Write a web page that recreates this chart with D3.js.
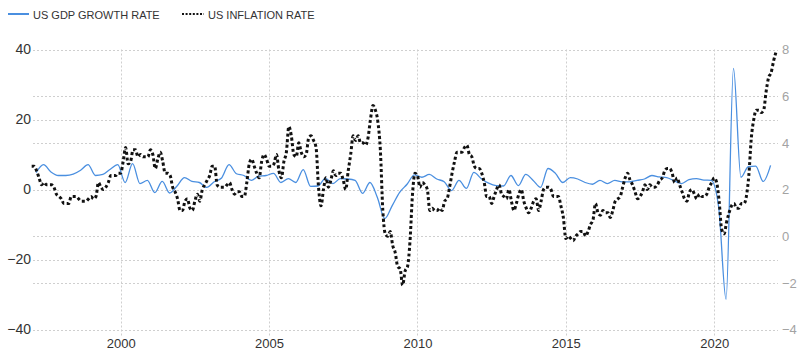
<!DOCTYPE html>
<html>
<head>
<meta charset="utf-8">
<script src="https://cdn.jsdelivr.net/npm/d3@7"></script>
<style>
  body { margin: 0; background: #fff; }
  text { font-family: Arial, "Liberation Sans", sans-serif; }
</style>
</head>
<body>
<div id="chart"></div>
<script>
/************************** DATA **************************/

var yearTicks = [2000, 2005, 2010, 2015, 2020];
var gdpTicks = [-40, -20, 0, 20, 40];
var cpiTicks = [-4, -2, 0, 2, 4, 6, 8];

// US GDP growth rate, quarterly, 1997 Q1 .. 2021 Q4 (left axis, %)
var gdpStartYear = 1997;
var gdpGrowth = [
  4.8, 7.1, 5.0, 4.0,     // 1997
  4.0, 4.4, 5.5, 7.1,     // 1998
  4.0, 4.3, 5.8, 7.1,     // 1999
  2.0, 7.4, 1.7, 2.6,     // 2000
  -0.9, 2.3, -1.0, 1.0,   // 2001
  3.4, 2.3, 2.0, 0.6,     // 2002
  2.2, 3.3, 7.1, 4.5,     // 2003
  4.0, 2.6, 3.8, 4.0,     // 2004
  4.6, 2.0, 3.1, 2.0,     // 2005
  5.7, 0.9, 1.0, 3.2,     // 2006
  1.7, 3.1, 3.0, 2.6,     // 2007
  -1.1, 2.0, -2.3, -8.3,  // 2008
  -4.6, -0.8, 1.5, 4.2,   // 2009
  3.5, 4.3, 3.0, 2.2,     // 2010
  -0.3, 2.6, 0.3, 4.9,    // 2011
  3.1, 1.8, 1.1, 1.0,     // 2012
  4.0, 1.1, 4.3, 2.6,     // 2013
  0.6, 6.0, 4.6, 2.0,     // 2014
  3.4, 3.0, 2.0, 1.5,     // 2015
  2.6, 1.7, 2.6, 2.2,     // 2016
  2.2, 2.6, 3.0, 4.0,     // 2017
  3.6, 3.4, 2.5, 1.7,     // 2018
  2.8, 3.1, 2.7, 2.6,     // 2019
  -5.0, -31.4, 34.6, 3.5, // 2020
  6.5, 6.7, 2.3, 6.9      // 2021
];

// US inflation rate, monthly, Jan 1997 .. Feb 2022 (right axis, %)
var inflationStartYear = 1997;
var inflation = [
  3.0, 3.0, 2.8, 2.5, 2.2, 2.3, 2.2, 2.2, 2.2, 2.1, 1.8, 1.7,   // 1997
  1.6, 1.4, 1.4, 1.4, 1.7, 1.7, 1.7, 1.6, 1.5, 1.5, 1.5, 1.6,   // 1998
  1.7, 1.6, 1.7, 2.3, 2.1, 2.0, 2.1, 2.3, 2.6, 2.6, 2.6, 2.7,   // 1999
  2.7, 3.2, 3.8, 3.1, 3.2, 3.7, 3.7, 3.4, 3.5, 3.4, 3.4, 3.4,   // 2000
  3.7, 3.5, 2.9, 3.3, 3.6, 3.2, 2.7, 2.7, 2.6, 2.1, 1.9, 1.6,   // 2001
  1.1, 1.1, 1.5, 1.6, 1.2, 1.1, 1.5, 1.8, 1.5, 2.0, 2.2, 2.4,   // 2002
  2.6, 3.0, 3.0, 2.2, 2.1, 2.1, 2.1, 2.2, 2.3, 2.0, 1.8, 1.9,   // 2003
  1.9, 1.7, 1.7, 2.3, 3.1, 3.3, 3.0, 2.7, 2.5, 3.2, 3.5, 3.3,   // 2004
  3.0, 3.0, 3.1, 3.5, 2.8, 2.5, 3.2, 3.6, 4.7, 4.3, 3.5, 3.4,   // 2005
  4.0, 3.6, 3.4, 3.5, 4.2, 4.3, 4.1, 3.8, 2.1, 1.3, 2.0, 2.5,   // 2006
  2.1, 2.4, 2.8, 2.6, 2.7, 2.7, 2.4, 2.0, 2.8, 3.5, 4.3, 4.1,   // 2007
  4.3, 4.0, 4.0, 3.9, 4.2, 5.0, 5.6, 5.4, 4.9, 3.7, 1.1, 0.1,   // 2008
  0.0, 0.2, -0.4, -0.7, -1.3, -1.4, -2.1, -1.5, -1.3, -0.2, 1.8, 2.7, // 2009
  2.6, 2.1, 2.3, 2.2, 2.0, 1.1, 1.2, 1.1, 1.1, 1.2, 1.1, 1.5,   // 2010
  1.6, 2.1, 2.7, 3.2, 3.6, 3.6, 3.6, 3.8, 3.9, 3.5, 3.4, 3.0,   // 2011
  2.9, 2.9, 2.7, 2.3, 1.7, 1.7, 1.4, 1.7, 2.0, 2.2, 1.8, 1.7,   // 2012
  1.6, 2.0, 1.5, 1.1, 1.4, 1.8, 2.0, 1.5, 1.2, 1.0, 1.2, 1.5,   // 2013
  1.6, 1.1, 1.5, 2.0, 2.1, 2.1, 2.0, 1.7, 1.7, 1.7, 1.3, 0.8,   // 2014
  -0.1, 0.0, -0.1, -0.2, 0.0, 0.1, 0.2, 0.2, 0.0, 0.2, 0.5, 0.7, // 2015
  1.4, 1.0, 0.9, 1.1, 1.0, 1.0, 0.8, 1.1, 1.5, 1.6, 1.7, 2.1,   // 2016
  2.5, 2.7, 2.4, 2.2, 1.9, 1.6, 1.7, 1.9, 2.2, 2.0, 2.2, 2.1,   // 2017
  2.1, 2.2, 2.4, 2.5, 2.8, 2.9, 2.9, 2.7, 2.3, 2.5, 2.2, 1.9,   // 2018
  1.6, 1.5, 1.9, 2.0, 1.8, 1.6, 1.8, 1.7, 1.7, 1.8, 2.1, 2.3,   // 2019
  2.5, 2.3, 1.5, 0.3, 0.1, 0.6, 1.0, 1.3, 1.4, 1.2, 1.2, 1.4,   // 2020
  1.4, 1.7, 2.6, 4.2, 5.0, 5.4, 5.4, 5.3, 5.4, 6.2, 6.8, 7.0,   // 2021
  7.5, 7.9                                                      // 2022
];

/************************** RENDER **************************/

var width = 800, height = 362;
var plot = { left: 33, right: 778, top: 49.5, bottom: 329.5 };

var svg = d3.select("#chart").append("svg")
    .attr("width", width)
    .attr("height", height);

var x = d3.scaleLinear()
    .domain([1997.045, 2022.15])
    .range([plot.left, plot.right]);

var yLeft = d3.scaleLinear()
    .domain([-40, 40])
    .range([plot.bottom, plot.top]);

var yRight = d3.scaleLinear()
    .domain([-4, 8])
    .range([plot.bottom, plot.top]);

var gdpData = gdpGrowth.map(function(v, i) {
  return { t: gdpStartYear + i * 0.25 + 0.15, value: v };
});

var inflationData = inflation.map(function(v, i) {
  return { t: inflationStartYear + i / 12, value: v };
});

var gridColor = "#cfcfcf";

// horizontal grid: one line for every tick on either axis
var gridYs = gdpTicks.map(function(d) { return yLeft(d); })
    .concat(cpiTicks.map(function(d) { return yRight(d); }));

svg.append("g").attr("class", "grid-h")
  .selectAll("line")
  .data(gridYs)
  .enter().append("line")
    .attr("x1", plot.left)
    .attr("x2", plot.right)
    .attr("y1", function(d) { return Math.round(d) + 0.5; })
    .attr("y2", function(d) { return Math.round(d) + 0.5; })
    .attr("stroke", gridColor)
    .attr("stroke-dasharray", "2,2");

// vertical grid at the year ticks
svg.append("g").attr("class", "grid-v")
  .selectAll("line")
  .data(yearTicks)
  .enter().append("line")
    .attr("x1", function(d) { return Math.round(x(d)) + 0.5; })
    .attr("x2", function(d) { return Math.round(x(d)) + 0.5; })
    .attr("y1", plot.top)
    .attr("y2", plot.bottom + 6)
    .attr("stroke", gridColor)
    .attr("stroke-dasharray", "2,2");

// axes
var leftAxis = svg.append("g")
    .attr("transform", "translate(" + (plot.left - 1) + ",0)")
    .call(d3.axisLeft(yLeft).tickValues(gdpTicks).tickSize(0).tickPadding(1));

var rightAxis = svg.append("g")
    .attr("transform", "translate(" + (plot.right + 3) + ",0)")
    .call(d3.axisRight(yRight).tickValues(cpiTicks).tickSize(0).tickPadding(1));

var bottomAxis = svg.append("g")
    .attr("transform", "translate(0," + (plot.bottom + 5) + ")")
    .call(d3.axisBottom(x).tickValues(yearTicks).tickFormat(d3.format("d")).tickSize(0).tickPadding(4));

[leftAxis, rightAxis, bottomAxis].forEach(function(g) {
  g.select(".domain").remove();
  g.selectAll("text").style("font-family", "Arial, 'Liberation Sans', sans-serif");
});
leftAxis.selectAll("text").attr("fill", "#333").style("font-size", "14px");
rightAxis.selectAll("text").attr("fill", "#a3a3a3").style("font-size", "13px");
bottomAxis.selectAll("text").attr("fill", "#333").style("font-size", "13px");

// series
var gdpLine = d3.line()
    .x(function(d) { return x(d.t); })
    .y(function(d) { return yLeft(d.value); })
    .curve(d3.curveMonotoneX);

var inflationLine = d3.line()
    .x(function(d) { return x(d.t); })
    .y(function(d) { return yRight(d.value); })
    .curve(d3.curveMonotoneX);

svg.append("path")
    .datum(gdpData)
    .attr("d", gdpLine)
    .attr("fill", "none")
    .attr("stroke", "#4a8fe0")
    .attr("stroke-width", 1.3);

svg.append("path")
    .datum(inflationData)
    .attr("d", inflationLine)
    .attr("fill", "none")
    .attr("stroke", "#111")
    .attr("stroke-width", 3)
    .attr("stroke-dasharray", "3,2.5");

// legend
var legend = svg.append("g").attr("class", "legend");

legend.append("line")
    .attr("x1", 8).attr("x2", 29)
    .attr("y1", 14).attr("y2", 14)
    .attr("stroke", "#4a8fe0")
    .attr("stroke-width", 2);

legend.append("text")
    .attr("x", 33).attr("y", 18.5)
    .attr("fill", "#333")
    .style("font-size", "11px")
    .text("US GDP GROWTH RATE");

legend.append("line")
    .attr("x1", 182).attr("x2", 204)
    .attr("y1", 14).attr("y2", 14)
    .attr("stroke", "#111")
    .attr("stroke-width", 2)
    .attr("stroke-dasharray", "2,1.6");

legend.append("text")
    .attr("x", 208).attr("y", 18.5)
    .attr("fill", "#333")
    .style("font-size", "11px")
    .text("US INFLATION RATE");
</script>
</body>
</html>
